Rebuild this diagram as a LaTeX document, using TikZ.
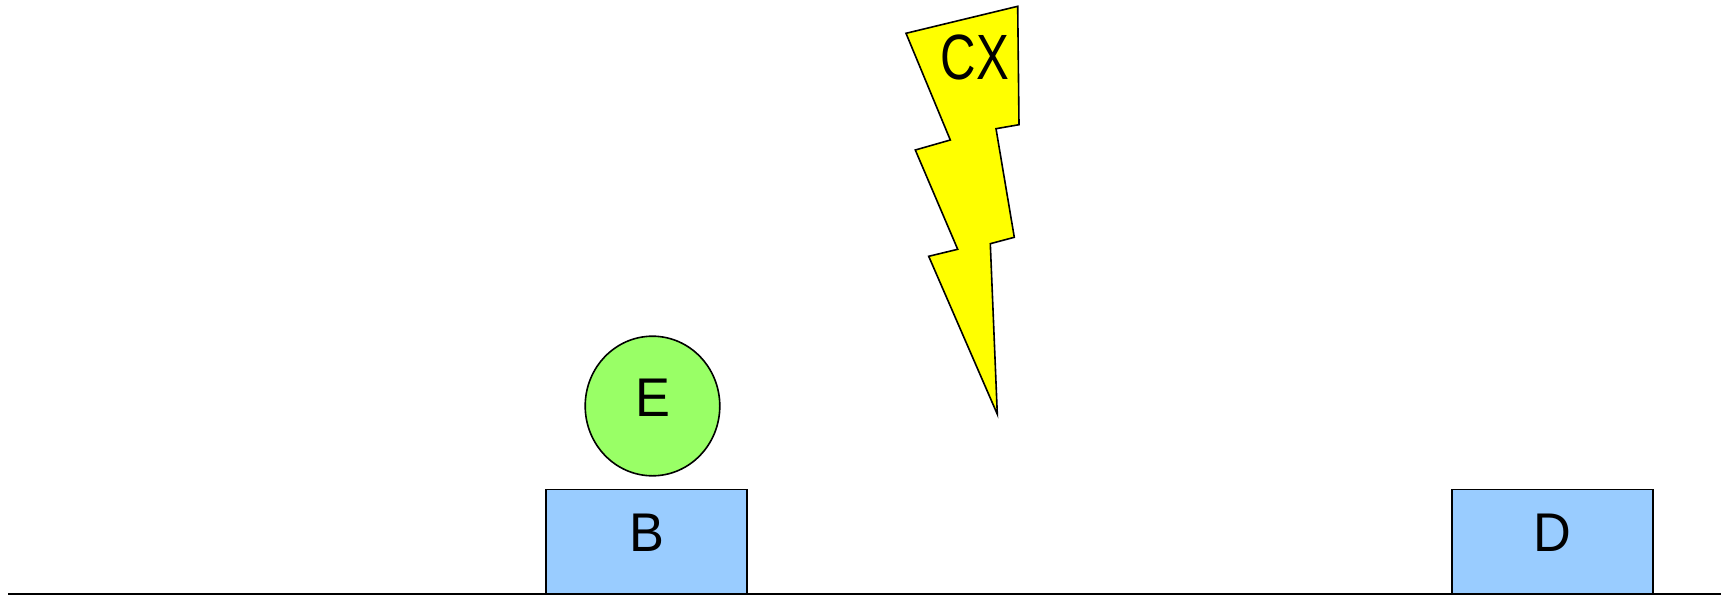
\documentclass[tikz,border=0pt]{standalone}
\usepackage{fontspec}
\setmainfont{Liberation Sans}
\definecolor{boxblue}{HTML}{99CCFF}
\definecolor{ballgreen}{HTML}{99FF66}
\definecolor{boltyellow}{HTML}{FFFF00}
\tikzset{
  outline/.style={draw=black,line width=1.6pt,line join=miter},
  blockshape/.style={outline,fill=boxblue},
  ballshape/.style={outline,fill=ballgreen},
  boltshape/.style={outline,fill=boltyellow,miter limit=10},
  lbl/.style={anchor=base,inner sep=0pt,outer sep=0pt,text=black,xscale=0.96,font=\fontsize{54.5}{55}\selectfont},
}
\begin{document}
\begin{tikzpicture}[x=1pt,y=-1pt]
\useasboundingbox (0,0) rectangle (1730,595);
\fill[white] (0,0) rectangle (1730,595);
% blocks
\draw[blockshape] (545.7,593.5) -- (545.7,489.6) -- (747.2,489.6) -- (747.2,593.5);
\draw[blockshape] (1452,593.5) -- (1452,489.6) -- (1653,489.6) -- (1653,593.5);
% ground
\coordinate (gl) at (8.3,593.7);
\coordinate (gr) at (1721,593.7);
\draw[line width=2pt] (gl) -- (gr);
% ball
\draw[ballshape] (652.5,406) ellipse [x radius=67.3,y radius=69.8];
% bolt
\draw[boltshape] (1017.7,6.3) -- (1019,124.7) -- (996,128.7) -- (1014.3,237.3) -- (990.3,243.7)
  -- (997.3,414.2) -- (928.7,256.3) -- (957.7,249.3) -- (915.3,150) -- (950.3,140) -- (906,33.3) -- cycle;
% labels
\node[lbl] (labelE) at (652.8,416.7) {E};
\node[lbl] (labelB) at (647,551.7) {B};
\node[lbl] (labelD) at (1552.5,551.7) {D};
\node[lbl,font=\fontsize{64}{65}\selectfont,xscale=0.8] (labelCX) at (974.7,79.6) {CX};
\end{tikzpicture}
\end{document}
